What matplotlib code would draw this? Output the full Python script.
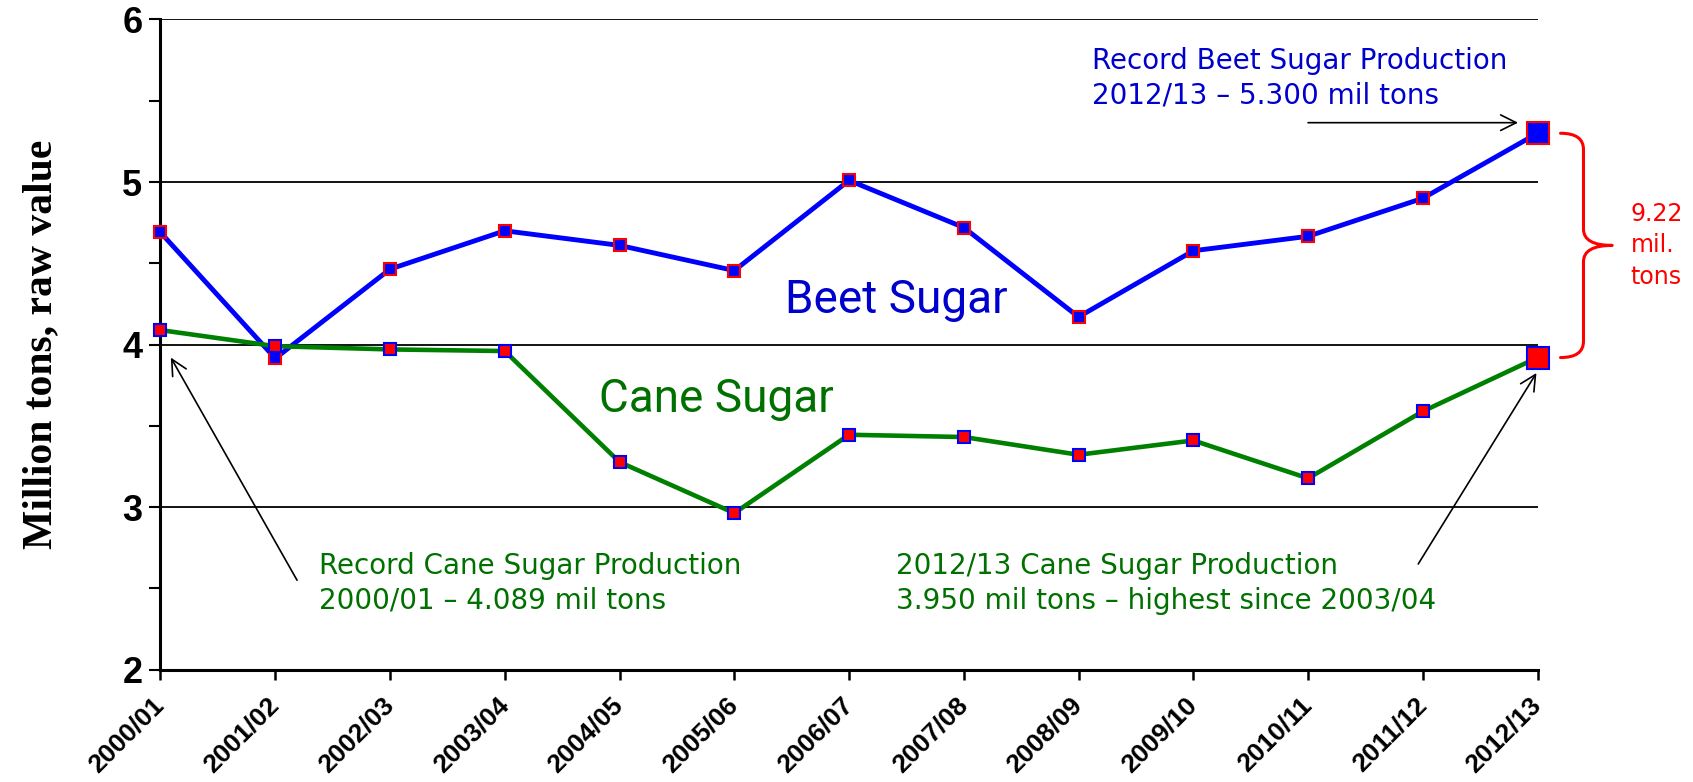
import matplotlib
matplotlib.use("Agg")
import matplotlib.pyplot as plt
from matplotlib.path import Path
from matplotlib.patches import PathPatch
from matplotlib.ticker import MultipleLocator


SEASONS = ["2000/01", "2001/02", "2002/03", "2003/04", "2004/05", "2005/06", "2006/07",
           "2007/08", "2008/09", "2009/10", "2010/11", "2011/12", "2012/13"]
BEET = [4.69, 3.915, 4.464, 4.70, 4.61, 4.455, 5.01, 4.72, 4.17, 4.577, 4.666, 4.90, 5.30]
CANE = [4.089, 3.99, 3.97, 3.96, 3.277, 2.963, 3.445, 3.431, 3.322, 3.41, 3.177, 3.589, 3.92]

BEET_COLOR = "#0000FF"
CANE_COLOR = "#008000"
BEET_TEXT = "#0000CC"
CANE_TEXT = "#007000"


def draw_brace(ax, x0, x1, x2, y_top, y_bot, r):
    ym = (y_top + y_bot) / 2
    verts = [
        (x0, y_top), (x1, y_top), (x1, y_top - r),
        (x1, ym + r), (x1, ym), (x2, ym),
        (x1, ym), (x1, ym - r),
        (x1, y_bot + r), (x1, y_bot), (x0, y_bot),
    ]
    codes = [
        Path.MOVETO, Path.CURVE3, Path.CURVE3,
        Path.LINETO, Path.CURVE3, Path.CURVE3,
        Path.CURVE3, Path.CURVE3,
        Path.LINETO, Path.CURVE3, Path.CURVE3,
    ]
    patch = PathPatch(Path(verts, codes), fill=False, edgecolor="#FF0000", lw=2.2,
                      clip_on=False, capstyle="round", joinstyle="round")
    ax.add_patch(patch)
    return ym


fig = plt.figure(figsize=(16.93, 7.82), dpi=100)
ax = fig.add_axes([0.0948, 0.1437, 0.8134, 0.8314])

x = list(range(len(SEASONS)))

ax.plot(x, BEET, color=BEET_COLOR, lw=3.5, zorder=3, solid_joinstyle="round", clip_on=False)
ax.plot(x[:-1], BEET[:-1], ls="none", marker="s", ms=8, mfc=BEET_COLOR, mec="#FF0000",
        mew=1.5, zorder=4, clip_on=False)
ax.plot(x[-1:], BEET[-1:], ls="none", marker="s", ms=15.5, mfc=BEET_COLOR, mec="#FF0000",
        mew=1.5, zorder=4, clip_on=False)

ax.plot(x, CANE, color=CANE_COLOR, lw=3.3, zorder=5, solid_joinstyle="round", clip_on=False)
ax.plot(x[:-1], CANE[:-1], ls="none", marker="s", ms=8, mfc="#FF0000", mec=BEET_COLOR,
        mew=1.5, zorder=6, clip_on=False)
ax.plot(x[-1:], CANE[-1:], ls="none", marker="s", ms=15.5, mfc="#FF0000", mec=BEET_COLOR,
        mew=1.5, zorder=6, clip_on=False)

ax.set_xlim(0, len(SEASONS) - 1)
ax.set_ylim(2, 6)
ax.set_xticks(x)
ax.set_xticklabels(SEASONS, rotation=45, ha="right", va="center", rotation_mode="anchor",
                   fontsize=19, fontweight="bold", family="Liberation Sans")
ax.yaxis.set_major_locator(MultipleLocator(1))
ax.yaxis.set_minor_locator(MultipleLocator(0.5))
for lab in ax.get_yticklabels():
    lab.set_fontsize(26)
    lab.set_fontweight("bold")
    lab.set_family("Liberation Sans")

ax.tick_params(axis="y", which="both", direction="out", length=8, width=1.5, pad=5)
ax.tick_params(axis="x", direction="out", length=7, width=1.8, pad=16)

for yv in [3, 4, 5, 6]:
    ax.axhline(yv, color="black", lw=1.3, zorder=1)

for side in ["top", "right"]:
    ax.spines[side].set_visible(False)
for side in ["left", "bottom"]:
    ax.spines[side].set_linewidth(2.2)

ax.set_ylabel("Million tons, raw value", fontsize=30, fontweight="bold",
              family="Liberation Serif")
ax.yaxis.set_label_coords(-0.073, 0.5)

# series labels
ax.text(6.41, 4.195, "Beet Sugar", color=BEET_TEXT, fontsize=33, family="Roboto",
        ha="center", va="baseline")
ax.text(4.84, 3.587, "Cane Sugar", color=CANE_TEXT, fontsize=33, family="Roboto",
        ha="center", va="baseline")

# callouts
ax.text(8.12, 5.64, "Record Beet Sugar Production\n2012/13 \u2013 5.300 mil tons",
        color=BEET_TEXT, fontsize=20, ha="left", va="center", linespacing=1.3)
ax.text(1.38, 2.53, "Record Cane Sugar Production\n2000/01 \u2013 4.089 mil tons",
        color=CANE_TEXT, fontsize=20, ha="left", va="center", linespacing=1.3)
ax.text(6.41, 2.53, "2012/13 Cane Sugar Production\n3.950 mil tons \u2013 highest since 2003/04",
        color=CANE_TEXT, fontsize=20, ha="left", va="center", linespacing=1.3)

arrow = dict(arrowstyle="->", lw=1.2, color="black", mutation_scale=28, shrinkA=0, shrinkB=0)
ax.annotate("", xy=(11.83, 5.365), xytext=(10.0, 5.365), arrowprops=arrow, annotation_clip=False)
ax.annotate("", xy=(0.09, 3.92), xytext=(1.19, 2.55), arrowprops=arrow, annotation_clip=False)
ax.annotate("", xy=(11.99, 3.825), xytext=(10.96, 2.65), arrowprops=arrow, annotation_clip=False)

# bracket showing the combined total
ym = draw_brace(ax, 12.2, 12.4, 12.65, BEET[-1], CANE[-1], 0.1)
ax.text(12.81, ym, f"{BEET[-1] + CANE[-1]:.2f}\nmil.\ntons", color="#FF0000", fontsize=17,
        ha="left", va="center", linespacing=1.4, clip_on=False)

fig.savefig("out.png", dpi=100)
